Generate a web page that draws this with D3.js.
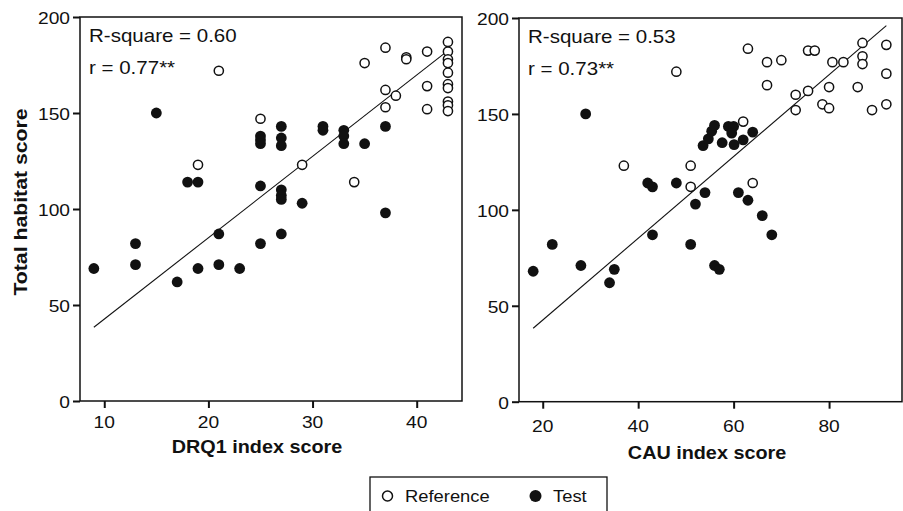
<!DOCTYPE html>
<html>
<head>
<meta charset="utf-8">
<script src="https://cdn.jsdelivr.net/npm/d3@7"></script>
<style>
  body { margin: 0; background: #fff; }
  svg { display: block; font-family: "Liberation Sans", Arial, sans-serif; }
</style>
</head>
<body>
<div id="plot"></div>
<script>
// Data: [index score, total habitat score]
const drqReference = [
  [21, 172], [25, 147], [19, 123], [29, 123], [34, 114], [35, 176],
  [37, 184], [37, 162], [37, 153], [38, 159], [39, 179], [39, 178],
  [41, 182], [41, 164], [41, 152],
  [43, 187], [43, 182], [43, 178], [43, 176], [43, 171], [43, 165],
  [43, 163], [43, 156], [43, 154], [43, 151]
];
const drqTest = [
  [15, 150], [18, 114], [19, 114], [25, 138], [25, 136], [25, 134],
  [25, 112], [27, 143], [27, 137], [27, 133], [27, 110], [27, 107],
  [27, 105], [29, 103], [31, 143], [31, 141], [33, 141], [33, 138],
  [33, 134], [35, 134], [37, 143], [37, 98], [21, 87], [27, 87],
  [13, 82], [25, 82], [9, 69], [13, 71], [17, 62], [19, 69],
  [21, 71], [23, 69]
];
const cauReference = [
  [48, 172], [63, 184], [67, 177], [70, 178], [75.6, 183], [77, 183],
  [80.7, 177], [83, 177], [87, 187], [87, 180], [87, 176], [92, 186],
  [92, 171], [92, 155], [67, 165], [73, 160], [73, 152], [75.6, 162],
  [80, 164], [78.6, 155], [80, 153], [86, 164], [89, 152], [62, 146],
  [37, 123], [51, 123], [51, 112], [64, 114]
];
const cauTest = [
  [29, 150], [42, 114], [43, 112], [48, 114], [52, 103], [54, 109],
  [43, 87], [51, 82], [61, 109], [63, 105], [66, 97], [68, 87],
  [22, 82], [18, 68], [28, 71], [34, 62], [35, 69], [56, 71], [57, 69],
  [53.6, 133.5], [54.7, 137], [55.4, 141], [56, 144], [57.6, 135],
  [58.9, 143.5], [60, 143.5], [59.6, 140], [60.1, 134], [62, 136.5],
  [64, 140.5]
];
// fitted regression lines (end points)
const drqFit = [[9, 38.4], [43, 182.5]];
const cauFit = [[18, 38.3], [92, 196]];

const yTicks = [0, 50, 100, 150, 200];
const drqTicks = [10, 20, 30, 40];
const cauTicks = [20, 40, 60, 80];
const drqStats = ["R-square = 0.60", "r = 0.77**"];
const cauStats = ["R-square = 0.53", "r = 0.73**"];
const legendItems = ["Reference", "Test"];

const svg = d3.select("#plot").append("svg")
  .attr("width", 903)
  .attr("height", 511);

const ink = "#111";

// the original type is a little wide, so stretch it horizontally
function label(x, y, str, size, opts = {}) {
  const sx = opts.sx || 1.12;
  const rot = opts.rotate ? ` rotate(${opts.rotate})` : "";
  return svg.append("text")
    .attr("transform", `translate(${x},${y})${rot} scale(${sx},1)`)
    .attr("text-anchor", opts.anchor || "start")
    .attr("font-size", size)
    .attr("font-weight", opts.bold ? "bold" : "normal")
    .attr("fill", ink)
    .text(str);
}

function panel(cfg) {
  const x = d3.scaleLinear().domain(cfg.xDomain).range([cfg.left, cfg.right]);
  const y = d3.scaleLinear().domain([0, 200]).range([cfg.bottom, cfg.top]);

  // frame
  svg.append("rect")
    .attr("x", cfg.left)
    .attr("y", cfg.top)
    .attr("width", cfg.right - cfg.left)
    .attr("height", cfg.bottom - cfg.top)
    .attr("fill", "none")
    .attr("stroke", ink)
    .attr("stroke-width", 1.5);

  // regression line
  svg.append("path")
    .datum(cfg.fit)
    .attr("d", d3.line().x(d => x(d[0])).y(d => y(d[1])))
    .attr("fill", "none")
    .attr("stroke", ink)
    .attr("stroke-width", 1.1);

  // points
  svg.append("g").selectAll("circle")
    .data(cfg.test)
    .join("circle")
    .attr("cx", d => x(d[0]))
    .attr("cy", d => y(d[1]))
    .attr("r", 5.4)
    .attr("fill", ink);

  svg.append("g").selectAll("circle")
    .data(cfg.reference)
    .join("circle")
    .attr("cx", d => x(d[0]))
    .attr("cy", d => y(d[1]))
    .attr("r", 4.6)
    .attr("fill", "#fff")
    .attr("stroke", ink)
    .attr("stroke-width", 1.5);

  // y axis
  const ya = svg.append("g")
    .attr("transform", `translate(${cfg.left},0)`)
    .call(d3.axisLeft(y).tickValues(yTicks).tickSize(7));
  ya.select(".domain").remove();
  ya.selectAll("line").attr("stroke", ink).attr("stroke-width", 2);
  ya.selectAll("text")
    .attr("x", 0)
    .attr("dy", "0.4em")
    .attr("transform", "translate(-10,0) scale(1.2,1)")
    .attr("font-size", 16)
    .attr("fill", ink);

  // x axis: tick marks from d3, labels placed with the same scale
  const xa = svg.append("g")
    .attr("transform", `translate(0,${cfg.bottom})`)
    .call(d3.axisBottom(x).tickValues(cfg.xTicks).tickSize(7).tickFormat(""));
  xa.select(".domain").remove();
  xa.selectAll("line").attr("stroke", ink).attr("stroke-width", 2);
  cfg.xTicks.forEach(v => {
    label(x(v), cfg.bottom + cfg.pad, String(v), 16, { anchor: "middle", sx: 1.2 });
  });

  // stats
  label(cfg.left + 9, cfg.top + 25, cfg.stats[0], 18, { sx: 1.14 });
  label(cfg.left + 9, cfg.top + 57, cfg.stats[1], 18, { sx: 1.14 });

  // x title
  label(cfg.titleX, cfg.titleY, cfg.title, 18, { bold: true, anchor: "middle", sx: 1.1 });
}

panel({
  left: 80, right: 462, top: 17, bottom: 401,
  xDomain: [7.67, 44.35], xTicks: drqTicks, pad: 27,
  reference: drqReference, test: drqTest, fit: drqFit, stats: drqStats,
  title: "DRQ1 index score", titleX: 257, titleY: 453
});

panel({
  left: 519, right: 902, top: 18, bottom: 401.7,
  xDomain: [15.03, 95.28], xTicks: cauTicks, pad: 30,
  reference: cauReference, test: cauTest, fit: cauFit, stats: cauStats,
  title: "CAU index score", titleX: 707, titleY: 459
});

// shared y title
label(27, 202, "Total habitat score", 18, { bold: true, anchor: "middle", rotate: -90, sx: 1.18 });

// legend
const legend = svg.append("g");
legend.append("rect")
  .attr("x", 370).attr("y", 477)
  .attr("width", 237).attr("height", 45)
  .attr("fill", "#fff")
  .attr("stroke", ink)
  .attr("stroke-width", 1.3);
legend.append("circle")
  .attr("cx", 387.5).attr("cy", 496).attr("r", 5)
  .attr("fill", "#fff").attr("stroke", ink).attr("stroke-width", 1.5);
legend.append("circle")
  .attr("cx", 535.5).attr("cy", 496).attr("r", 6)
  .attr("fill", ink);
label(405, 502, legendItems[0], 17, { sx: 1.08 });
label(553, 502, legendItems[1], 17, { sx: 1.08 });
</script>
</body>
</html>
